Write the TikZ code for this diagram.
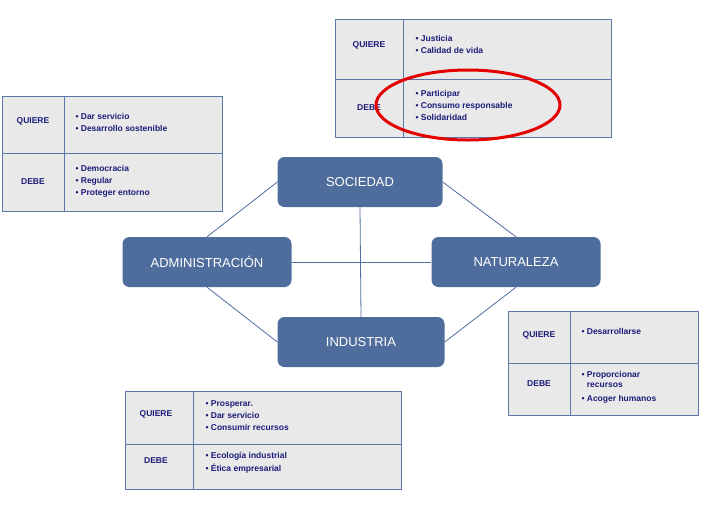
\documentclass[tikz,border=0pt]{standalone}
\usepackage{fontspec}
\setmainfont{Liberation Sans}
\begin{document}
\begin{tikzpicture}[x=1pt,y=-1pt,
  box/.style={rounded corners=7pt,fill=boxc,text=white,font=\fontsize{13}{15}\selectfont},
  conn/.style={draw=boxc,line width=0.8pt},
  cellb/.style={draw=tblb,fill=gray!17,line width=0.7pt},
  lab/.style={text=txt,font=\bfseries\fontsize{8.5}{10}\selectfont},
  it/.style={text=txt,font=\bfseries\fontsize{8.5}{10}\selectfont,align=left,anchor=west}]
\definecolor{boxc}{HTML}{4F6D9C}
\definecolor{tblb}{HTML}{5A78A8}
\definecolor{txt}{HTML}{1C1C7A}
\useasboundingbox (0,0) rectangle (705,528);
% connectors
\node[box,minimum width=165pt,minimum height=50pt] (soc) at (360,182) {SOCIEDAD};
\node[box,minimum width=169pt,minimum height=50pt] (adm) at (207,262) {ADMINISTRACIÓN};
\node[box,minimum width=169pt,minimum height=50pt] (nat) at (516,262) {NATURALEZA};
\node[box,minimum width=167pt,minimum height=50pt] (ind) at (361,342) {INDUSTRIA};
\begin{scope}[on background layer/.style={}]
\end{scope}
\draw[conn] (soc.west) -- (adm.north);
\draw[conn] (soc.east) -- (nat.north);
\draw[conn] (adm.south) -- (ind.west);
\draw[conn] (nat.south) -- (ind.east);
\draw[conn] (soc.south) -- (ind.north);
\draw[conn] (adm.east) -- (nat.west);
% top table
\draw[cellb] (335,19) rectangle (611,137);
\draw[tblb,line width=0.7pt] (403,19) -- (403,137) (335,79) -- (611,79);
\node[lab] (t1q) at (369,45) {QUIERE};
\node[lab] (t1d) at (369,108) {DEBE};
\node[it] (t1a) at (412,45) {\begin{tabular}{@{}l@{}}• Justicia\\[2pt]• Calidad de vida\end{tabular}};
\node[it] (t1b) at (412,106) {\begin{tabular}{@{}l@{}}• Participar\\[2pt]• Consumo responsable\\[2pt]• Solidaridad\end{tabular}};
% left table
\draw[cellb] (2,96) rectangle (222,211);
\draw[tblb,line width=0.7pt] (64,96) -- (64,211) (2,153) -- (222,153);
\node[lab] (t2q) at (33,121) {QUIERE};
\node[lab] (t2d) at (33,182) {DEBE};
\node[it] (t2a) at (72,123) {\begin{tabular}{@{}l@{}}• Dar servicio\\[2pt]• Desarrollo sostenible\end{tabular}};
\node[it] (t2b) at (72,181) {\begin{tabular}{@{}l@{}}• Democracia\\[2pt]• Regular\\[2pt]• Proteger entorno\end{tabular}};
% right table
\draw[cellb] (508,311) rectangle (698,415);
\draw[tblb,line width=0.7pt] (570,311) -- (570,415) (508,363) -- (698,363);
\node[lab] (t3q) at (539,335) {QUIERE};
\node[lab] (t3d) at (539,384) {DEBE};
\node[it] (t3a) at (578,331) {• Desarrollarse};
\node[it] (t3b) at (578,387) {\begin{tabular}{@{}l@{}}• Proporcionar\\\phantom{• }recursos\\[4pt]• Acoger humanos\end{tabular}};
% bottom table
\draw[cellb] (125,391) rectangle (401,489);
\draw[tblb,line width=0.7pt] (193,391) -- (193,489) (125,444) -- (401,444);
\node[lab] (t4q) at (156,414) {QUIERE};
\node[lab] (t4d) at (156,461) {DEBE};
\node[it] (t4a) at (202,416) {\begin{tabular}{@{}l@{}}• Prosperar.\\[2pt]• Dar servicio\\[2pt]• Consumir recursos\end{tabular}};
\node[it] (t4b) at (202,463) {\begin{tabular}{@{}l@{}}• Ecología industrial\\[2pt]• Ética empresarial\end{tabular}};
% red ellipse
\draw[red!90!black,line width=3pt] (468,105) ellipse [x radius=92pt,y radius=35pt];
\end{tikzpicture}
\end{document}
